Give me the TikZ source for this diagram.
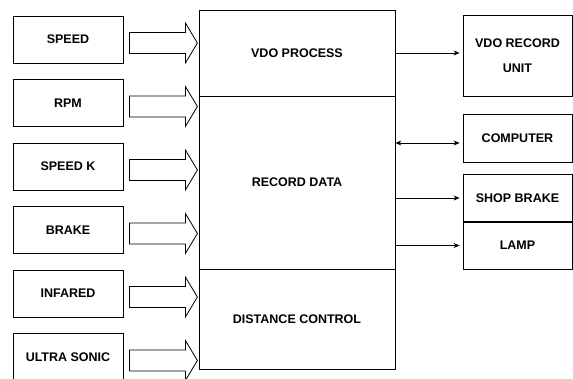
\documentclass[tikz,border=0pt]{standalone}
\usepackage{fontspec}
\setmainfont{Liberation Sans}
\usetikzlibrary{arrows.meta,calc}
\tikzstyle{inbox} = [rectangle, minimum width=110pt, minimum height=47pt, text centered, draw=black, line width=0.8pt, font=\bfseries\fontsize{12.5}{15}\selectfont]
\tikzstyle{block} = [rectangle, minimum width=196pt, text centered, draw=black, line width=0.8pt, font=\bfseries\fontsize{12.5}{15}\selectfont]
\tikzstyle{outbox} = [rectangle, minimum width=109pt, minimum height=47pt, text centered, draw=black, line width=0.8pt, font=\bfseries\fontsize{12.5}{15}\selectfont]
\tikzstyle{fatarrow} = [draw=black, fill=white, line width=0.8pt]
\tikzstyle{arrow} = [line width=0.8pt,-{Stealth[length=6pt,width=5pt]},shorten >=3pt]

\begin{document}
\begin{tikzpicture}[x=1pt,y=-1pt]
\useasboundingbox (0,0) rectangle (573,378);

\foreach \i/\txt in {0/SPEED,1/RPM,2/SPEED K,3/BRAKE,4/INFARED,5/ULTRA SONIC}{
	\node[inbox] (in\i) at (68,39.5+63.5*\i) {\txt};
	\draw[fatarrow] ($(in\i.east)+(6,-7)$) -- ++(56,0) -- ++(0,-9.5) -- ++(12,20) -- ++(-12,20) -- ++(0,-9.5) -- ++(-56,0) -- cycle;
}

\node[block, minimum height=86pt] (vdo) at (297,53) {VDO PROCESS};
\node[block, minimum height=173pt] (rec) at (297,182.5) {RECORD DATA};
\node[block, minimum height=100pt] (dist) at (297,319) {DISTANCE CONTROL};

\node[outbox, minimum height=81pt, align=center] (vru) at (517.5,55.5) {VDO RECORD\\[10pt]UNIT};
\node[outbox, minimum height=48pt] (comp) at (517.5,138) {COMPUTER};
\node[outbox] (sb) at (517.5,198) {SHOP BRAKE};
\node[outbox] (lamp) at (517.5,245.5) {LAMP};

\draw[arrow] (vdo.east) -- (vdo.east -| vru.west);
\draw[arrow,{Stealth[length=6pt,width=5pt]}-{Stealth[length=6pt,width=5pt]}] ([yshift=-5pt]comp.west -| rec.east) -- ([yshift=-5pt]comp.west);
\draw[arrow] (sb.west -| rec.east) -- (sb.west);
\draw[arrow] (lamp.west -| rec.east) -- (lamp.west);
\end{tikzpicture}
\end{document}
